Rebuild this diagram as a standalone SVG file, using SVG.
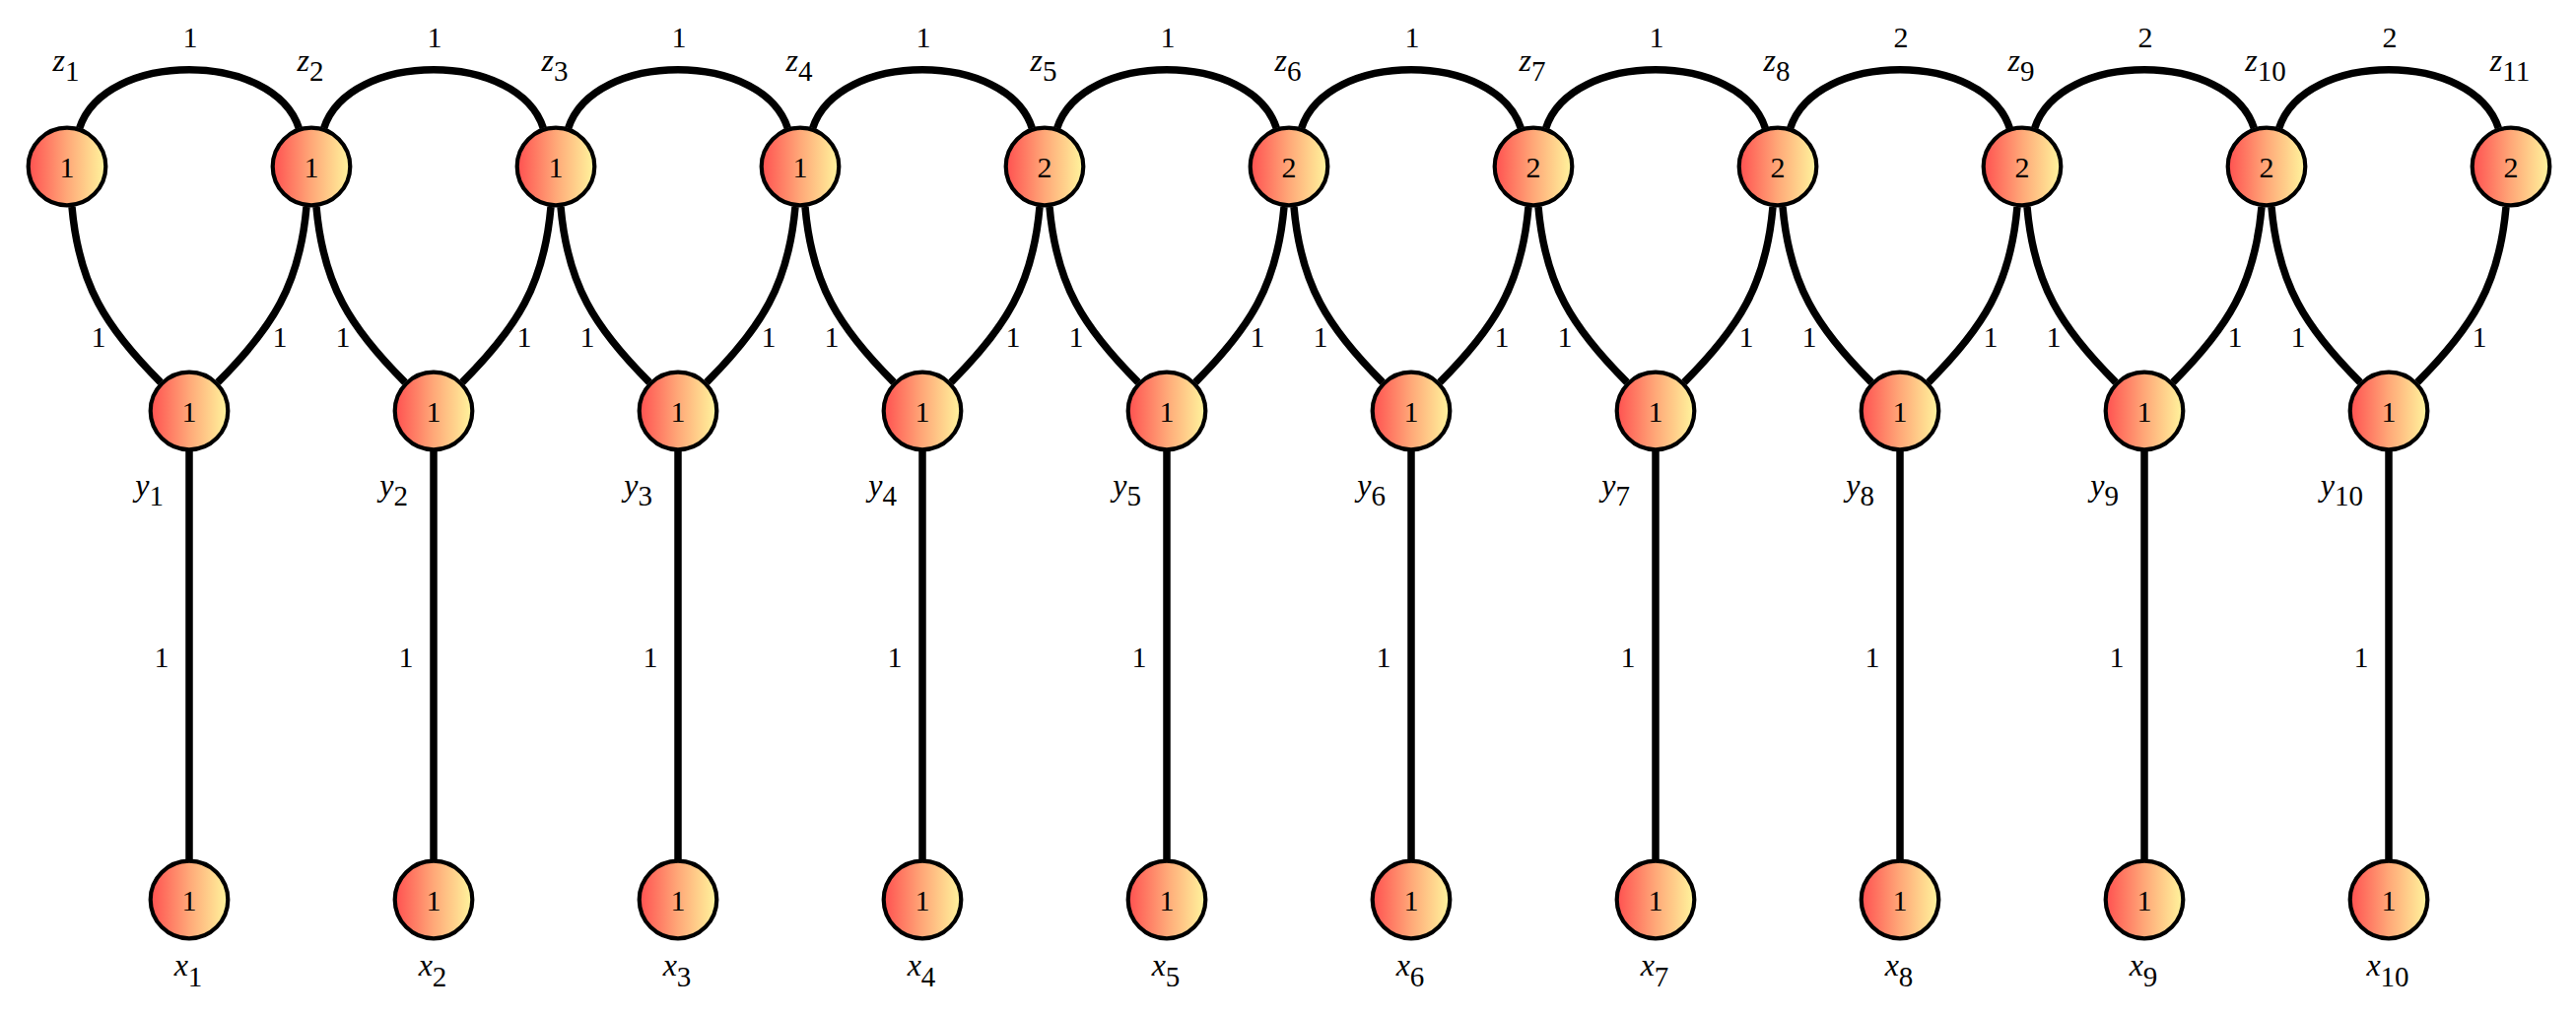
<svg xmlns="http://www.w3.org/2000/svg" width="2614" height="1031" viewBox="0 0 2614 1031" font-family="'Liberation Serif', 'DejaVu Serif', serif">
<defs>
<linearGradient id="nf" x1="0" y1="0" x2="1" y2="0">
<stop offset="0" stop-color="#ff5050"/>
<stop offset="0.5" stop-color="#ffa878"/>
<stop offset="1" stop-color="#fff59d"/>
</linearGradient>
</defs>
<style>
.e{fill:none;stroke:#000;stroke-width:7.5}
.n{fill:url(#nf);stroke:#000;stroke-width:4.2}
text{font-family:'Liberation Serif','DejaVu Serif',serif;fill:#000}
.v{font-size:30px;text-anchor:middle}
.l{font-size:30px;text-anchor:middle}
.lb{font-size:32px}
.m{font-style:italic}
.s{font-size:29px}
.r{text-anchor:end}
.c{text-anchor:middle}
</style>
<rect width="2614" height="1031" fill="#fff"/>
<g id="connectors">
<path class="e" d="M80.7,130 c25.6,-79 197,-79 222.6,0"/>
<path class="e" d="M328.7,130 c25.6,-79 197,-79 222.6,0"/>
<path class="e" d="M576.7,130 c25.6,-79 197,-79 222.6,0"/>
<path class="e" d="M824.7,130 c25.6,-79 197,-79 222.6,0"/>
<path class="e" d="M1072.7,130 c25.6,-79 197,-79 222.6,0"/>
<path class="e" d="M1320.7,130 c25.6,-79 197,-79 222.6,0"/>
<path class="e" d="M1568.7,130 c25.6,-79 197,-79 222.6,0"/>
<path class="e" d="M1816.7,130 c25.6,-79 197,-79 222.6,0"/>
<path class="e" d="M2064.7,130 c25.6,-79 197,-79 222.6,0"/>
<path class="e" d="M2312.7,130 c25.6,-79 197,-79 222.6,0"/>
<path class="e" d="M73,210 c6.9,78.7 34.1,122.1 90,178"/>
<path class="e" d="M321,210 c6.9,78.7 34.1,122.1 90,178"/>
<path class="e" d="M569,210 c6.9,78.7 34.1,122.1 90,178"/>
<path class="e" d="M817,210 c6.9,78.7 34.1,122.1 90,178"/>
<path class="e" d="M1065,210 c6.9,78.7 34.1,122.1 90,178"/>
<path class="e" d="M1313,210 c6.9,78.7 34.1,122.1 90,178"/>
<path class="e" d="M1561,210 c6.9,78.7 34.1,122.1 90,178"/>
<path class="e" d="M1809,210 c6.9,78.7 34.1,122.1 90,178"/>
<path class="e" d="M2057,210 c6.9,78.7 34.1,122.1 90,178"/>
<path class="e" d="M2305,210 c6.9,78.7 34.1,122.1 90,178"/>
<path class="e" d="M311,210 c-6.9,78.7 -34.1,122.1 -90,178"/>
<path class="e" d="M559,210 c-6.9,78.7 -34.1,122.1 -90,178"/>
<path class="e" d="M807,210 c-6.9,78.7 -34.1,122.1 -90,178"/>
<path class="e" d="M1055,210 c-6.9,78.7 -34.1,122.1 -90,178"/>
<path class="e" d="M1303,210 c-6.9,78.7 -34.1,122.1 -90,178"/>
<path class="e" d="M1551,210 c-6.9,78.7 -34.1,122.1 -90,178"/>
<path class="e" d="M1799,210 c-6.9,78.7 -34.1,122.1 -90,178"/>
<path class="e" d="M2047,210 c-6.9,78.7 -34.1,122.1 -90,178"/>
<path class="e" d="M2295,210 c-6.9,78.7 -34.1,122.1 -90,178"/>
<path class="e" d="M2543,210 c-6.9,78.7 -34.1,122.1 -90,178"/>
<path class="e" d="M192,450 V880"/>
<path class="e" d="M440,450 V880"/>
<path class="e" d="M688,450 V880"/>
<path class="e" d="M936,450 V880"/>
<path class="e" d="M1184,450 V880"/>
<path class="e" d="M1432,450 V880"/>
<path class="e" d="M1680,450 V880"/>
<path class="e" d="M1928,450 V880"/>
<path class="e" d="M2176,450 V880"/>
<path class="e" d="M2424,450 V880"/>
<g id="edge-labels">
<text class="l" x="193" y="48">1</text>
<text class="l" x="441" y="48">1</text>
<text class="l" x="689" y="48">1</text>
<text class="l" x="937" y="48">1</text>
<text class="l" x="1185" y="48">1</text>
<text class="l" x="1433" y="48">1</text>
<text class="l" x="1681" y="48">1</text>
<text class="l" x="1929" y="48">2</text>
<text class="l" x="2177" y="48">2</text>
<text class="l" x="2425" y="48">2</text>
<text class="l" x="100" y="352">1</text>
<text class="l" x="348" y="352">1</text>
<text class="l" x="596" y="352">1</text>
<text class="l" x="844" y="352">1</text>
<text class="l" x="1092" y="352">1</text>
<text class="l" x="1340" y="352">1</text>
<text class="l" x="1588" y="352">1</text>
<text class="l" x="1836" y="352">1</text>
<text class="l" x="2084" y="352">1</text>
<text class="l" x="2332" y="352">1</text>
<text class="l" x="284" y="352">1</text>
<text class="l" x="532" y="352">1</text>
<text class="l" x="780" y="352">1</text>
<text class="l" x="1028" y="352">1</text>
<text class="l" x="1276" y="352">1</text>
<text class="l" x="1524" y="352">1</text>
<text class="l" x="1772" y="352">1</text>
<text class="l" x="2020" y="352">1</text>
<text class="l" x="2268" y="352">1</text>
<text class="l" x="2516" y="352">1</text>
<text class="l" x="164" y="677">1</text>
<text class="l" x="412" y="677">1</text>
<text class="l" x="660" y="677">1</text>
<text class="l" x="908" y="677">1</text>
<text class="l" x="1156" y="677">1</text>
<text class="l" x="1404" y="677">1</text>
<text class="l" x="1652" y="677">1</text>
<text class="l" x="1900" y="677">1</text>
<text class="l" x="2148" y="677">1</text>
<text class="l" x="2396" y="677">1</text>
</g>
</g>
<g id="z1"><circle class="n" cx="68" cy="169" r="39.3"/><text class="v" x="68" y="180">1</text><text class="lb c" x="67" y="72"><tspan class="m">z</tspan><tspan class="s" dy="10">1</tspan></text></g>
<g id="z2"><circle class="n" cx="316" cy="169" r="39.3"/><text class="v" x="316" y="180">1</text><text class="lb c" x="315" y="72"><tspan class="m">z</tspan><tspan class="s" dy="10">2</tspan></text></g>
<g id="z3"><circle class="n" cx="564" cy="169" r="39.3"/><text class="v" x="564" y="180">1</text><text class="lb c" x="563" y="72"><tspan class="m">z</tspan><tspan class="s" dy="10">3</tspan></text></g>
<g id="z4"><circle class="n" cx="812" cy="169" r="39.3"/><text class="v" x="812" y="180">1</text><text class="lb c" x="811" y="72"><tspan class="m">z</tspan><tspan class="s" dy="10">4</tspan></text></g>
<g id="z5"><circle class="n" cx="1060" cy="169" r="39.3"/><text class="v" x="1060" y="180">2</text><text class="lb c" x="1059" y="72"><tspan class="m">z</tspan><tspan class="s" dy="10">5</tspan></text></g>
<g id="z6"><circle class="n" cx="1308" cy="169" r="39.3"/><text class="v" x="1308" y="180">2</text><text class="lb c" x="1307" y="72"><tspan class="m">z</tspan><tspan class="s" dy="10">6</tspan></text></g>
<g id="z7"><circle class="n" cx="1556" cy="169" r="39.3"/><text class="v" x="1556" y="180">2</text><text class="lb c" x="1555" y="72"><tspan class="m">z</tspan><tspan class="s" dy="10">7</tspan></text></g>
<g id="z8"><circle class="n" cx="1804" cy="169" r="39.3"/><text class="v" x="1804" y="180">2</text><text class="lb c" x="1803" y="72"><tspan class="m">z</tspan><tspan class="s" dy="10">8</tspan></text></g>
<g id="z9"><circle class="n" cx="2052" cy="169" r="39.3"/><text class="v" x="2052" y="180">2</text><text class="lb c" x="2051" y="72"><tspan class="m">z</tspan><tspan class="s" dy="10">9</tspan></text></g>
<g id="z10"><circle class="n" cx="2300" cy="169" r="39.3"/><text class="v" x="2300" y="180">2</text><text class="lb c" x="2299" y="72"><tspan class="m">z</tspan><tspan class="s" dy="10">10</tspan></text></g>
<g id="z11"><circle class="n" cx="2548" cy="169" r="39.3"/><text class="v" x="2548" y="180">2</text><text class="lb c" x="2547" y="72"><tspan class="m">z</tspan><tspan class="s" dy="10">11</tspan></text></g>
<g id="y1"><circle class="n" cx="192" cy="417" r="39.3"/><text class="v" x="192" y="428">1</text><text class="lb r" x="166" y="503"><tspan class="m">y</tspan><tspan class="s" dy="10">1</tspan></text></g>
<g id="y2"><circle class="n" cx="440" cy="417" r="39.3"/><text class="v" x="440" y="428">1</text><text class="lb r" x="414" y="503"><tspan class="m">y</tspan><tspan class="s" dy="10">2</tspan></text></g>
<g id="y3"><circle class="n" cx="688" cy="417" r="39.3"/><text class="v" x="688" y="428">1</text><text class="lb r" x="662" y="503"><tspan class="m">y</tspan><tspan class="s" dy="10">3</tspan></text></g>
<g id="y4"><circle class="n" cx="936" cy="417" r="39.3"/><text class="v" x="936" y="428">1</text><text class="lb r" x="910" y="503"><tspan class="m">y</tspan><tspan class="s" dy="10">4</tspan></text></g>
<g id="y5"><circle class="n" cx="1184" cy="417" r="39.3"/><text class="v" x="1184" y="428">1</text><text class="lb r" x="1158" y="503"><tspan class="m">y</tspan><tspan class="s" dy="10">5</tspan></text></g>
<g id="y6"><circle class="n" cx="1432" cy="417" r="39.3"/><text class="v" x="1432" y="428">1</text><text class="lb r" x="1406" y="503"><tspan class="m">y</tspan><tspan class="s" dy="10">6</tspan></text></g>
<g id="y7"><circle class="n" cx="1680" cy="417" r="39.3"/><text class="v" x="1680" y="428">1</text><text class="lb r" x="1654" y="503"><tspan class="m">y</tspan><tspan class="s" dy="10">7</tspan></text></g>
<g id="y8"><circle class="n" cx="1928" cy="417" r="39.3"/><text class="v" x="1928" y="428">1</text><text class="lb r" x="1902" y="503"><tspan class="m">y</tspan><tspan class="s" dy="10">8</tspan></text></g>
<g id="y9"><circle class="n" cx="2176" cy="417" r="39.3"/><text class="v" x="2176" y="428">1</text><text class="lb r" x="2150" y="503"><tspan class="m">y</tspan><tspan class="s" dy="10">9</tspan></text></g>
<g id="y10"><circle class="n" cx="2424" cy="417" r="39.3"/><text class="v" x="2424" y="428">1</text><text class="lb r" x="2398" y="503"><tspan class="m">y</tspan><tspan class="s" dy="10">10</tspan></text></g>
<g id="x1"><circle class="n" cx="192" cy="913" r="39.3"/><text class="v" x="192" y="924">1</text><text class="lb c" x="191" y="990"><tspan class="m">x</tspan><tspan class="s" dy="11">1</tspan></text></g>
<g id="x2"><circle class="n" cx="440" cy="913" r="39.3"/><text class="v" x="440" y="924">1</text><text class="lb c" x="439" y="990"><tspan class="m">x</tspan><tspan class="s" dy="11">2</tspan></text></g>
<g id="x3"><circle class="n" cx="688" cy="913" r="39.3"/><text class="v" x="688" y="924">1</text><text class="lb c" x="687" y="990"><tspan class="m">x</tspan><tspan class="s" dy="11">3</tspan></text></g>
<g id="x4"><circle class="n" cx="936" cy="913" r="39.3"/><text class="v" x="936" y="924">1</text><text class="lb c" x="935" y="990"><tspan class="m">x</tspan><tspan class="s" dy="11">4</tspan></text></g>
<g id="x5"><circle class="n" cx="1184" cy="913" r="39.3"/><text class="v" x="1184" y="924">1</text><text class="lb c" x="1183" y="990"><tspan class="m">x</tspan><tspan class="s" dy="11">5</tspan></text></g>
<g id="x6"><circle class="n" cx="1432" cy="913" r="39.3"/><text class="v" x="1432" y="924">1</text><text class="lb c" x="1431" y="990"><tspan class="m">x</tspan><tspan class="s" dy="11">6</tspan></text></g>
<g id="x7"><circle class="n" cx="1680" cy="913" r="39.3"/><text class="v" x="1680" y="924">1</text><text class="lb c" x="1679" y="990"><tspan class="m">x</tspan><tspan class="s" dy="11">7</tspan></text></g>
<g id="x8"><circle class="n" cx="1928" cy="913" r="39.3"/><text class="v" x="1928" y="924">1</text><text class="lb c" x="1927" y="990"><tspan class="m">x</tspan><tspan class="s" dy="11">8</tspan></text></g>
<g id="x9"><circle class="n" cx="2176" cy="913" r="39.3"/><text class="v" x="2176" y="924">1</text><text class="lb c" x="2175" y="990"><tspan class="m">x</tspan><tspan class="s" dy="11">9</tspan></text></g>
<g id="x10"><circle class="n" cx="2424" cy="913" r="39.3"/><text class="v" x="2424" y="924">1</text><text class="lb c" x="2423" y="990"><tspan class="m">x</tspan><tspan class="s" dy="11">10</tspan></text></g>
</svg>
